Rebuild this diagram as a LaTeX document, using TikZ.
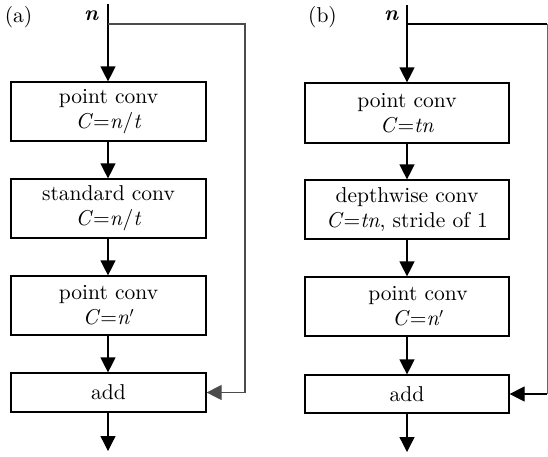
\documentclass[tikz,border=0pt]{standalone}
\usepackage{fontspec}
\setmainfont{lmroman10-regular.otf}[ItalicFont=lmroman10-italic.otf, BoldFont=lmroman10-bold.otf, BoldItalicFont=lmroman10-bolditalic.otf]
\usetikzlibrary{arrows.meta}
\tikzset{
  blk/.style={draw=black, line width=1.2pt, rectangle, inner sep=0pt, align=center,
    font=\fontsize{21.5}{25}\selectfont},
  flow/.style={line width=1.3pt, -{Triangle[length=15pt,width=15pt]}},
  skipa/.style={draw=black!70, line width=1.1pt},
  skipb/.style={draw=black, line width=1.2pt},
  lbl/.style={anchor=base, inner sep=0pt, font=\fontsize{21.5}{25}\selectfont},
}
\begin{document}
\begin{tikzpicture}[x=1pt,y=-1pt]
\useasboundingbox (0,0) rectangle (548,456);
% ---------- (a) ----------
\node[lbl] (la) at (18.5,22) {(a)};
\node[lbl] (na) at (91.5,20) {\textbf{\textit{n}}};
\coordinate (ta) at (108,4);
\coordinate (sa1) at (108,24);
\coordinate (sa2) at (245,24);
\coordinate (sa3) at (245,392.5);
\node[blk, minimum width=195pt, minimum height=59pt] (a1) at (108.5,111.5) {point conv\\ \textit{C}=\textit{n}/\textit{t}};
\node[blk, minimum width=195pt, minimum height=59pt] (a2) at (108.5,208.5) {standard conv\\ \textit{C}=\textit{n}/\textit{t}};
\node[blk, minimum width=195pt, minimum height=59pt] (a3) at (108.5,305.5) {point conv\\ \textit{C}=\textit{n}$'$};
\node[blk, minimum width=195pt, minimum height=39pt] (a4) at (108.5,392.5) {add};
\coordinate (ea) at (108,451);
\draw[flow] (ta) -- (a1.north -| ta);
\draw[flow] (a1.south -| ta) -- (a2.north -| ta);
\draw[flow] (a2.south -| ta) -- (a3.north -| ta);
\draw[flow] (a3.south -| ta) -- (a4.north -| ta);
\draw[flow] (a4.south -| ta) -- (ea);
\draw[skipa] (sa1) -- (sa2) -- (sa3);
\draw[skipa, -{Triangle[length=15pt,width=15pt]}, draw=black!70, fill=black!70] (sa3) -- (a4.east);
% ---------- (b) ----------
\node[lbl] (lb) at (322.5,22) {(b)};
\node[lbl] (nb) at (391.5,20) {\textbf{\textit{n}}};
\coordinate (tb) at (407,5);
\coordinate (sb1) at (407,24);
\coordinate (sb2) at (547,24);
\coordinate (sb3) at (547,394);
\node[blk, minimum width=204pt, minimum height=60pt] (b1) at (407,113) {point conv\\ \textit{C}=\textit{tn}};
\node[blk, minimum width=204pt, minimum height=59pt] (b2) at (407,209.5) {depthwise conv\\ \textit{C}=\textit{tn}, stride of 1};
\node[blk, minimum width=204pt, minimum height=59pt] (b3) at (407,306.5) {};
\node[lbl, anchor=center, align=center] (b3t) at (418,306.5) {point conv\\ \textit{C}=\textit{n}$'$};
\node[blk, minimum width=204pt, minimum height=38pt] (b4) at (407,394) {add};
\coordinate (eb) at (407,452);
\draw[flow] (tb) -- (b1.north -| tb);
\draw[flow] (b1.south -| tb) -- (b2.north -| tb);
\draw[flow] (b2.south -| tb) -- (b3.north -| tb);
\draw[flow] (b3.south -| tb) -- (b4.north -| tb);
\draw[flow] (b4.south -| tb) -- (eb);
\draw[skipb] (sb1) -- (sb2);
\draw[draw=black!60, line width=1pt] (sb2) -- (sb3);
\draw[skipb, -{Triangle[length=15pt,width=15pt]}] (sb3) -- (b4.east);
\end{tikzpicture}
\end{document}
